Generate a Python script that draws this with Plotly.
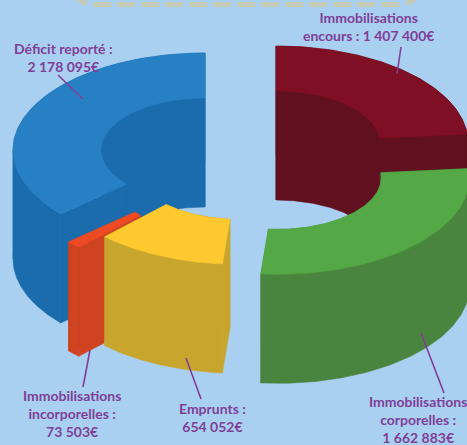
import math
import plotly.graph_objects as go

# ---- data
labels = ["Immobilisations<br>encours : 1 407 400€",
          "Immobilisations<br>corporelles :<br>1 662 883€",
          "Emprunts :<br>654 052€",
          "Immobilisations<br>incorporelles :<br>73 503€",
          "Déficit reporté :<br>2 178 095€"]
values = [1407400, 1662883, 654052, 73503, 2178095]

# ---- styling / layout
top_colors = ["#7f0f24", "#54a845", "#fdc92f", "#ee4a23", "#2880c4"]
side_colors = ["#60101e", "#4a8540", "#c8a62e", "#cf4321", "#1a6cad"]
centers = [(276, 143), (277.4, 177.4), (239, 167.4), (213, 178), (205, 150)]
draw_order = [4, 0, 1, 3, 2]
RX, RY = 192, 97
IX, IY = 104, 52
DEPTH = 109
BG = "#a9d0f0"
PURPLE = "#7f3f98"
BAND = "#c5cbb5"
label_pos = [(368, 26), (418, 419), (212, 417), (72, 413.5), (63.5, 57)]
leaders = [((401, 47), (397, 74)), ((444, 393), (421, 333)), ((201, 399), (186, 358)),
           ((83, 387), (90, 350)), ((58, 75), (83, 99))]

total = sum(values)
starts, acc = [], 0
for v in values:
    starts.append(acc / total * 2 * math.pi)
    acc += v


def arc(c, rx, ry, a0, a1, dy=0):
    n = 80
    return [(c[0] + rx * math.sin(a0 + (a1 - a0) * i / n),
             c[1] - ry * math.cos(a0 + (a1 - a0) * i / n) + dy) for i in range(n + 1)]


fig = go.Figure()


def poly(pts, color):
    xs = [p[0] for p in pts] + [pts[0][0]]
    ys = [p[1] for p in pts] + [pts[0][1]]
    fig.add_trace(go.Scatter(x=xs, y=ys, mode="lines", fill="toself", fillcolor=color,
                             line=dict(color=color, width=0.5), hoverinfo="skip", showlegend=False))


def wall(c, rx, ry, a0, a1, color):
    # split where the silhouette turns so every wall piece is a simple polygon
    cuts = [a0] + [b for b in (math.pi / 2, 3 * math.pi / 2) if a0 < b < a1] + [a1]
    for s, e in zip(cuts, cuts[1:]):
        poly(arc(c, rx, ry, s, e) + arc(c, rx, ry, s, e, DEPTH)[::-1], color)


for i in draw_order:
    a0 = starts[i]
    a1 = a0 + values[i] / total * 2 * math.pi
    c = centers[i]
    top, side = top_colors[i], side_colors[i]
    outer, inner = arc(c, RX, RY, a0, a1), arc(c, IX, IY, a0, a1)
    outer_b, inner_b = arc(c, RX, RY, a0, a1, DEPTH), arc(c, IX, IY, a0, a1, DEPTH)
    wall(c, IX, IY, a0, a1, side)
    poly([inner[0], outer[0], outer_b[0], inner_b[0]], side)
    poly([inner[-1], outer[-1], outer_b[-1], inner_b[-1]], side)
    wall(c, RX, RY, a0, a1, side)
    poly(outer + inner[::-1], top)

for (p, q) in leaders:
    fig.add_shape(type="line", x0=p[0], y0=p[1], x1=q[0], y1=q[1],
                  line=dict(color=PURPLE, width=1.6))

# dashed band at the top with its two arrow tips
fig.add_shape(type="line", x0=93, y0=4.5, x1=402, y1=4.5,
              line=dict(color=BAND, width=5, dash="18px,6px"))
fig.add_shape(type="path", path="M 76 0 L 87 0 L 87 5 L 83 5 Z", fillcolor=BAND, line_width=0)
fig.add_shape(type="path", path="M 406 0 L 418 0 L 409 5 L 406 5 Z", fillcolor=BAND, line_width=0)

for t, (x, y) in zip(labels, label_pos):
    fig.add_annotation(x=x, y=y, text="<b>%s</b>" % t, showarrow=False, align="center",
                       xanchor="center", yanchor="middle",
                       font=dict(family="Lato", size=14, color=PURPLE))

fig.update_layout(width=467, height=445, margin=dict(l=0, r=0, t=0, b=0),
                  paper_bgcolor=BG, plot_bgcolor=BG, showlegend=False,
                  xaxis=dict(range=[0, 467], visible=False, fixedrange=True),
                  yaxis=dict(range=[445, 0], visible=False, fixedrange=True))
fig.write_html("out.html", config={"displayModeBar": False},
               post_script="document.body.style.margin='0';document.body.style.overflow='hidden';")
